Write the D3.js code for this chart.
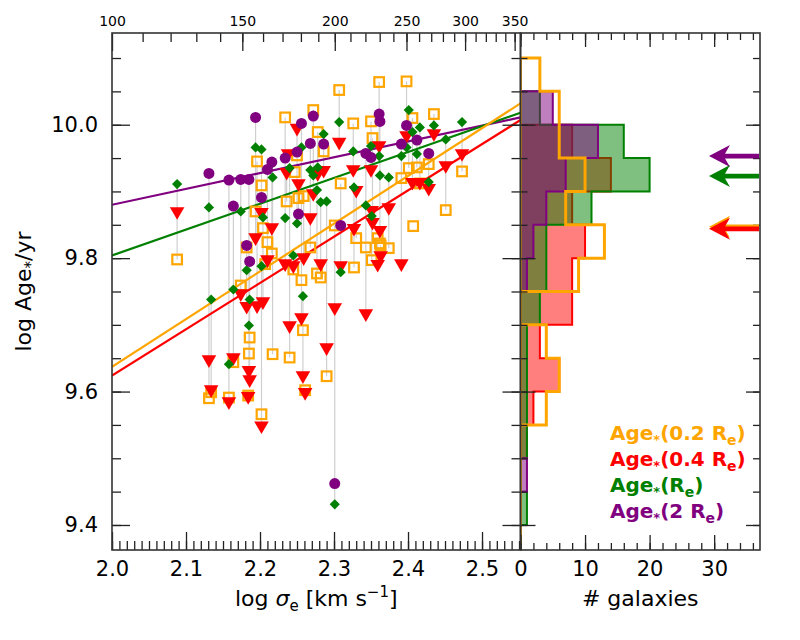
<!DOCTYPE html>
<html>
<head>
<meta charset="utf-8">
<script src="https://cdn.jsdelivr.net/npm/d3@7"></script>
<style>
  body { margin: 0; background: #fff; }
  svg { font-family: "DejaVu Sans", sans-serif; }
</style>
</head>
<body>
<svg id="chart" width="800" height="640"></svg>
<script>
// one entry per galaxy: log sigma_e and log stellar age at four apertures (null = not shown)
const logSigma = [2.088, 2.131, 2.134, 2.158, 2.164, 2.174, 2.182, 2.184, 2.185, 2.186,
  2.194, 2.196, 2.202, 2.202, 2.204, 2.207, 2.210, 2.216, 2.217, 2.234,
  2.236, 2.238, 2.240, 2.245, 2.247, 2.250, 2.252, 2.256, 2.258, 2.259,
  2.261, 2.268, 2.272, 2.277, 2.278, 2.282, 2.286, 2.290, 2.301, 2.307,
  2.309, 2.326, 2.327, 2.330, 2.343, 2.350, 2.351, 2.352, 2.359, 2.361,
  2.362, 2.363, 2.374, 2.391, 2.398, 2.401, 2.406, 2.407, 2.412, 2.416,
  2.428, 2.435, 2.451, 2.473];
const age02Re = [9.798, 9.590, 9.599, 9.591, 9.644, 9.759, 9.816, 9.594, 9.657, 9.681,
  9.870, 9.945, 9.909, 9.566, 9.845, 9.791, 9.824, 9.807, 9.656, 10.011,
  9.885, null, 9.651, 9.783, 9.929, 9.954, 9.890, 9.767, 9.692, 9.893,
  9.602, 9.816, 10.022, 9.777, 9.989, 9.771, 9.960, 9.623, 9.849, 10.052,
  9.912, 10.002, 9.786, 9.830, 9.816, 10.005, 9.797, 9.980, 9.830, 10.064,
  9.822, 9.819, 9.815, 9.920, 10.065, 9.935, 10.010, 9.848, 9.936, 9.912,
  9.941, 10.016, 9.872, 9.930];
const age04Re = [9.870, 9.648, 9.603, 9.585, 9.651, 9.747, 9.728, 9.593, 9.632, 9.618,
  9.831, 9.729, 9.869, 9.549, 9.735, null, 9.798, 9.846, null, 9.792,
  9.929, 9.957, 9.699, 9.789, null, 9.995, 9.912, 9.711, 9.624, 9.801,
  9.599, 9.861, 9.897, null, 9.927, 9.792, 9.932, 9.666, 9.726, 9.974,
  9.789, 9.933, 9.845, 9.902, 9.717, 9.933, 9.872, 9.854, 9.791, 9.969,
  9.842, 9.804, 9.876, 9.792, 9.984, null, 9.914, null, null, 9.914,
  9.905, 9.987, 9.939, 9.957];
const age1Re = [9.911, 9.876, 9.738, 9.641, 9.753, 9.870, 9.782, null, 9.699, 9.738,
  9.966, null, 9.963, 9.788, 9.861, null, null, 9.942, 9.921, 9.860,
  null, null, 9.935, 9.804, null, 9.852, null, 9.966, 9.743, null,
  null, 9.932, 9.924, 9.902, 9.936, 9.884, 9.986, 9.885, 9.431, 10.004,
  9.779, 9.960, 9.906, null, 9.879, 9.968, 9.863, null, null, 9.953,
  9.924, null, 9.921, 9.953, 9.966, 10.022, 9.989, null, 9.956, 9.996,
  9.914, 9.999, 9.978, 10.004];
const age2Re = [null, 9.927, null, 9.917, 9.878, 9.918, 9.819, null, 9.918, 9.795,
  10.011, null, 9.891, null, null, null, 9.933, 9.944, null, 9.950,
  null, null, null, null, null, 9.959, 9.866, 10.002, null, null,
  null, 9.972, 10.013, null, null, null, 9.971, null, 9.462, null,
  9.849, null, null, null, 9.957, 9.951, null, null, null, 10.016,
  10.005, null, null, 9.971, 9.999, null, null, null, 9.977, null,
  9.957, null, null, null];

// linear fits: value at each end of the x range
const fitX = [2.0, 2.552];
const fit02Re = [9.637, 10.032];
const fit04Re = [9.624, 10.007];
const fit1Re = [9.804, 10.018];
const fit2Re = [9.880, 10.011];

// age histograms, 0.05 dex bins from the top down
const binEdges = [10.10, 10.05, 10.00, 9.95, 9.90, 9.85, 9.80, 9.75, 9.70, 9.65, 9.60, 9.55, 9.50, 9.45, 9.40, 9.35];
const hist02Re = [3, 6, 6, 10, 7, 13, 9, 0, 4, 6, 4, 0, 0, 0, 0];
const hist04Re = [0, 0, 8, 14, 8, 10, 8, 8, 3, 6, 2, 1, 0, 0, 0];
const hist1Re = [0, 3, 16, 20, 11, 4, 4, 3, 1, 1, 1, 1, 0, 1, 0];
const hist2Re = [0, 5, 12, 7, 4, 2, 1, 0, 0, 0, 0, 0, 1, 0, 0];

// medians marked by the arrows
const median02Re = 9.847;
const median04Re = 9.844;
const median1Re = 9.923;
const median2Re = 9.953;

const xTicks = [2.0, 2.1, 2.2, 2.3, 2.4, 2.5];
const sigmaTicks = [100, 150, 200, 250, 300, 350];
const yTicks = [9.4, 9.6, 9.8, 10.0];
const countTicks = [0, 10, 20, 30];
const legendLabels = ["0.2 ", "0.4 ", "", "2 "];

const colors = ["#ffa500", "#ff0000", "#008000", "#800080"];

const box = {left: 112, mid: 520.5, right: 760, top: 33, bottom: 550};

const x = d3.scaleLinear().domain([2.0, 2.552]).range([box.left, box.mid]);
const xSigma = d3.scaleLog().domain([100, Math.pow(10, 2.552)]).range([box.left, box.mid]);
const y = d3.scaleLinear().domain([9.3625, 10.1375]).range([box.bottom, box.top]);
const xh = d3.scaleLinear().domain([0, 37.1]).range([box.mid, box.right]);

const svg = d3.select("#chart");

const defs = svg.append("defs");
defs.append("clipPath").attr("id", "clipMain").append("rect")
  .attr("x", box.left).attr("y", box.top).attr("width", box.mid - box.left).attr("height", box.bottom - box.top);
defs.append("clipPath").attr("id", "clipHist").append("rect")
  .attr("x", box.mid).attr("y", box.top).attr("width", box.right - box.mid).attr("height", box.bottom - box.top);

// ---- scatter panel
const plot = svg.append("g").attr("clip-path", "url(#clipMain)");

const galaxies = logSigma.map((s, i) => ({
  s: s,
  vals: [age02Re[i], age04Re[i], age1Re[i], age2Re[i]].filter(v => v != null)
}));

plot.append("g")
  .selectAll("line")
  .data(galaxies.filter(d => d.vals.length > 1))
  .join("line")
  .attr("x1", d => x(d.s)).attr("x2", d => x(d.s))
  .attr("y1", d => y(d3.min(d.vals))).attr("y2", d => y(d3.max(d.vals)))
  .attr("stroke", "#cfcfcf")
  .attr("stroke-width", 1.2);

const line = d3.line().x(d => x(d[0])).y(d => y(d[1]));
[fit2Re, fit1Re, fit02Re, fit04Re].forEach((f, i) => {
  plot.append("path")
    .attr("d", line(fitX.map((v, j) => [v, f[j]])))
    .attr("fill", "none")
    .attr("stroke", [colors[3], colors[2], colors[0], colors[1]][i])
    .attr("stroke-width", 2.2);
});

const pts = (arr) => logSigma.map((s, i) => [s, arr[i]]).filter(d => d[1] != null);

plot.append("g").selectAll("rect")
  .data(pts(age02Re))
  .join("rect")
  .attr("x", d => x(d[0]) - 4.8).attr("y", d => y(d[1]) - 4.8)
  .attr("width", 9.6).attr("height", 9.6)
  .attr("fill", "none")
  .attr("stroke", colors[0])
  .attr("stroke-width", 2.2);

const tri = d3.symbol().type(d3.symbolTriangle).size(92);
plot.append("g").selectAll("path")
  .data(pts(age04Re))
  .join("path")
  .attr("d", tri)
  .attr("transform", d => `translate(${x(d[0])},${y(d[1])}) rotate(180)`)
  .attr("fill", colors[1]);

const diamond = d3.symbol().type(d3.symbolSquare).size(52);
plot.append("g").selectAll("path")
  .data(pts(age1Re))
  .join("path")
  .attr("d", diamond)
  .attr("transform", d => `translate(${x(d[0])},${y(d[1])}) rotate(45)`)
  .attr("fill", colors[2]);

plot.append("g").selectAll("circle")
  .data(pts(age2Re))
  .join("circle")
  .attr("cx", d => x(d[0])).attr("cy", d => y(d[1]))
  .attr("r", 5.5)
  .attr("fill", colors[3]);

// ---- histogram panel
const hist = svg.append("g").attr("clip-path", "url(#clipHist)");

const stepPath = counts => {
  const p = d3.path();
  p.moveTo(xh(0), y(binEdges[0]));
  counts.forEach((c, i) => {
    p.lineTo(xh(c), y(binEdges[i]));
    p.lineTo(xh(c), y(binEdges[i + 1]));
  });
  p.lineTo(xh(0), y(binEdges[binEdges.length - 1]));
  p.closePath();
  return p.toString();
};

[[hist04Re, colors[1]], [hist1Re, colors[2]], [hist2Re, colors[3]]].forEach(([h, c]) => {
  hist.append("path")
    .attr("d", stepPath(h))
    .attr("fill", c)
    .attr("fill-opacity", 0.5)
    .attr("stroke", c)
    .attr("stroke-width", 2);
});

hist.append("path")
  .attr("d", stepPath(hist02Re))
  .attr("fill", "none")
  .attr("stroke", colors[0])
  .attr("stroke-width", 3);

// ---- axes
const ticks = (g, gen, values, size, pad, fmt, fontSize) => {
  g.call(gen.tickValues(values).tickSizeInner(-size).tickSizeOuter(0).tickPadding(pad).tickFormat(fmt || ""))
    .call(g => g.select(".domain").remove())
    .attr("font-family", null)
    .attr("font-size", fontSize || 21);
  g.selectAll(".tick line").attr("stroke", "#222").attr("stroke-width", 1.3);
  g.selectAll(".tick text").attr("fill", "#000");
};

const xMinor = d3.range(200, 256).map(v => v / 100);
const sigmaMinor = d3.range(110, 351, 10);
const yMinor = d3.range(940, 1011, 5).map(v => v / 100);
const countMinor = d3.range(0, 37, 2);

const ax = (tx, ty) => svg.append("g").attr("transform", `translate(${tx},${ty})`);

ticks(ax(0, box.bottom), d3.axisBottom(x), xMinor, 9, 10);
ticks(ax(0, box.bottom), d3.axisBottom(x), xTicks, 18, 11, d3.format(".1f"));
ticks(ax(0, box.top), d3.axisTop(xSigma), sigmaMinor, 9, 7);
ticks(ax(0, box.top), d3.axisTop(xSigma), sigmaTicks, 18, 7, d3.format("d"), 14);
ticks(ax(box.left, 0), d3.axisLeft(y), yMinor, 9, 14);
ticks(ax(box.left, 0), d3.axisLeft(y), yTicks, 18, 14, d3.format(".1f"));
ticks(ax(box.mid, 0), d3.axisRight(y), yMinor, 9, 8);
ticks(ax(box.mid, 0), d3.axisRight(y), yTicks, 18, 8);

ticks(ax(box.mid, 0), d3.axisLeft(y), yMinor, 7, 8);
ticks(ax(box.mid, 0), d3.axisLeft(y), yTicks, 15, 8);
ticks(ax(box.right, 0), d3.axisRight(y), yMinor, 7, 8);
ticks(ax(box.right, 0), d3.axisRight(y), yTicks, 14, 8);
ticks(ax(0, box.bottom), d3.axisBottom(xh), countMinor, 7, 11);
ticks(ax(0, box.bottom), d3.axisBottom(xh), countTicks, 15, 11, d3.format("d"));
ticks(ax(0, box.top), d3.axisTop(xh), countMinor, 7, 8);
ticks(ax(0, box.top), d3.axisTop(xh), countTicks, 14, 8);

svg.append("rect")
  .attr("x", box.left).attr("y", box.top)
  .attr("width", box.mid - box.left).attr("height", box.bottom - box.top)
  .attr("fill", "none").attr("stroke", "#333").attr("stroke-width", 1.6);
svg.append("rect")
  .attr("x", box.mid).attr("y", box.top)
  .attr("width", box.right - box.mid).attr("height", box.bottom - box.top)
  .attr("fill", "none").attr("stroke", "#333").attr("stroke-width", 1.6);

// ---- median arrows
const arrow = (val, color) => {
  const yy = y(val), r = box.right - 1, tip = box.right - 51;
  const p = [[tip, yy], [tip + 21, yy - 11], [tip + 16, yy - 2.4], [r, yy - 2.4],
    [r, yy + 2.4], [tip + 16, yy + 2.4], [tip + 21, yy + 11]];
  svg.append("path")
    .attr("d", "M" + p.join("L") + "Z")
    .attr("fill", color);
};
arrow(median2Re, colors[3]);
arrow(median1Re, colors[2]);
arrow(median02Re, colors[0]);
arrow(median04Re, colors[1]);

// ---- legend
legendLabels.forEach((lab, i) => {
  const t = svg.append("text")
    .attr("x", 610).attr("y", 440 + i * 26)
    .attr("font-size", 20).attr("font-weight", "bold")
    .attr("fill", colors[i]);
  t.append("tspan").text("Age");
  t.append("tspan").attr("font-size", 13).attr("dy", 4).text("*");
  t.append("tspan").attr("dy", -4).text("(" + lab + "R");
  t.append("tspan").attr("font-size", 14).attr("dy", 5).text("e");
  t.append("tspan").attr("dy", -5).text(")");
});

// ---- axis titles
const xt = svg.append("text")
  .attr("x", (box.left + box.mid) / 2).attr("y", 606)
  .attr("text-anchor", "middle").attr("font-size", 22);
xt.append("tspan").text("log ");
xt.append("tspan").attr("font-style", "italic").text("σ");
xt.append("tspan").attr("font-size", 15).attr("dy", 5).text("e");
xt.append("tspan").attr("dy", -5).text(" [km s");
xt.append("tspan").attr("font-size", 15).attr("dy", -9).text("−1");
xt.append("tspan").attr("dy", 9).text("]");

svg.append("text")
  .attr("x", (box.mid + box.right) / 2).attr("y", 606)
  .attr("text-anchor", "middle").attr("font-size", 22)
  .text("# galaxies");

const yt = svg.append("text")
  .attr("transform", `translate(31,${(box.top + box.bottom) / 2}) rotate(-90)`)
  .attr("text-anchor", "middle").attr("font-size", 22);
yt.append("tspan").text("log Age");
yt.append("tspan").attr("font-size", 15).attr("dy", 5).text("*");
yt.append("tspan").attr("dy", -5).text("/yr");
</script>
</body>
</html>
